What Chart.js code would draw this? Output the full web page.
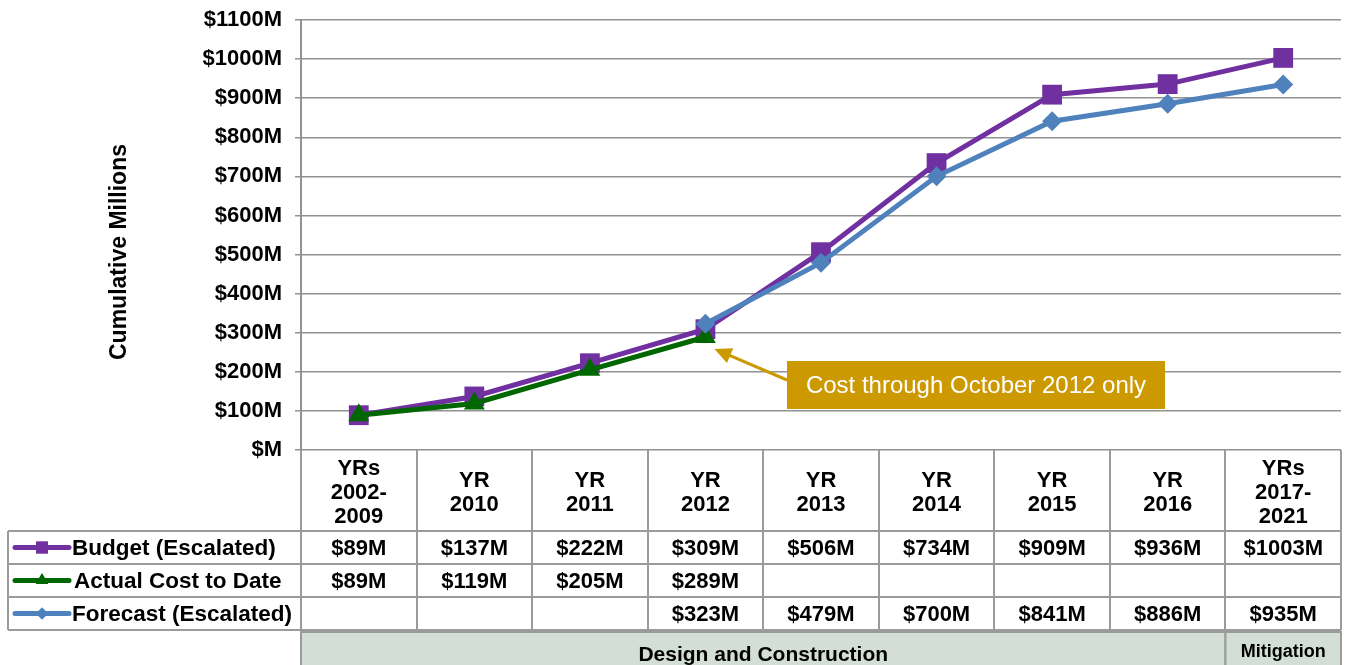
<!DOCTYPE html>
<html>
<head>
<meta charset="utf-8">
<script src="https://cdn.jsdelivr.net/npm/chart.js@4.4.0/dist/chart.umd.min.js"></script>
<style>
  html, body { margin: 0; padding: 0; background: #fff; }
</style>
</head>
<body>
<canvas id="costChart" width="1349" height="665"></canvas>
<script>
// chart data
var years = [['YRs', '2002-', '2009'], ['YR', '2010'], ['YR', '2011'], ['YR', '2012'], ['YR', '2013'],
             ['YR', '2014'], ['YR', '2015'], ['YR', '2016'], ['YRs', '2017-', '2021']];
var budget = [89, 137, 222, 309, 506, 734, 909, 936, 1003];
var actual = [89, 119, 205, 289, null, null, null, null, null];
var forecast = [null, null, null, 323, 479, 700, 841, 886, 935];
var seriesNames = ['Budget (Escalated)', 'Actual Cost to Date', 'Forecast (Escalated)'];
var phases = ['Design and Construction', 'Mitigation'];
var phaseSpans = [8, 1];
var note = 'Cost through October 2012 only';
var noteIndex = 3;

var FONT = '"Liberation Sans", Arial, sans-serif';
var gridColor = '#929292';

function money(v) {
  return '$' + (v === 0 ? '' : v) + 'M';
}

// draws the data table, phase band, axis title and the note box
var tablePlugin = {
  id: 'dataTable',
  afterDraw: function(chart) {
    var ctx = chart.ctx;
    var xs = chart.scales.x, ys = chart.scales.y;
    var area = chart.chartArea;
    var n = years.length;
    var colW = (xs.right - xs.left) / n;
    var headTop = area.bottom, rowTop = 531, rowH = 33;
    var legLeft = 8;
    var sets = chart.data.datasets;
    var rows = [budget, actual, forecast];

    ctx.save();

    // header text
    ctx.fillStyle = '#000';
    ctx.textAlign = 'center';
    ctx.textBaseline = 'middle';
    ctx.font = 'bold 22px ' + FONT;
    years.forEach(function(lines, i) {
      var cx = xs.getPixelForValue(i);
      lines.forEach(function(t, j) {
        ctx.fillText(t, cx, 493 + (j - (lines.length - 1) / 2) * 24);
      });
    });

    // value rows
    rows.forEach(function(vals, r) {
      var cy = rowTop + r * rowH + rowH / 2 + 1;
      vals.forEach(function(v, i) {
        if (v === null) return;
        ctx.fillText(money(v), xs.getPixelForValue(i), cy);
      });
    });

    // legend keys + names
    ctx.textAlign = 'left';
    ctx.font = 'bold 22.5px ' + FONT;
    rows.forEach(function(vals, r) {
      var ds = sets.find(function(d) { return d.label === seriesNames[r]; });
      var cy = rowTop + r * rowH + rowH / 2;
      ctx.strokeStyle = ds.borderColor;
      ctx.lineWidth = 5;
      ctx.lineCap = 'round';
      ctx.beginPath();
      ctx.moveTo(15, cy);
      ctx.lineTo(69, cy);
      ctx.stroke();
      ctx.fillStyle = ds.borderColor;
      Chart.helpers.drawPoint(ctx, { pointStyle: ds.pointStyle, radius: ds.pointRadius * 0.6, borderWidth: 0 }, 42, cy);
      ctx.fill();
      ctx.fillStyle = '#000';
      ctx.fillText(seriesNames[r], r === 1 ? 74 : 72, cy + 1);
    });

    // table grid
    ctx.strokeStyle = '#9b9b9b';
    ctx.lineWidth = 2;
    ctx.lineCap = 'butt';
    ctx.beginPath();
    for (var i = 0; i <= n; i++) {
      var gx = Math.round(xs.left + i * colW);
      ctx.moveTo(gx, headTop);
      ctx.lineTo(gx, rowTop + 3 * rowH);
    }
    for (var r = 0; r <= 3; r++) {
      ctx.moveTo(legLeft, rowTop + r * rowH);
      ctx.lineTo(xs.right, rowTop + r * rowH);
    }
    ctx.moveTo(legLeft, rowTop);
    ctx.lineTo(legLeft, rowTop + 3 * rowH);
    ctx.stroke();

    // phase band
    var bandTop = rowTop + 3 * rowH + 2;
    var start = 0;
    phases.forEach(function(p, k) {
      var x0 = xs.left + start * colW, x1 = xs.left + (start + phaseSpans[k]) * colW;
      ctx.fillStyle = '#d3ded6';
      ctx.fillRect(x0, bandTop, x1 - x0, chart.height - bandTop + 2);
      ctx.strokeRect(x0, bandTop, x1 - x0, chart.height - bandTop + 4);
      ctx.fillStyle = '#000';
      ctx.textAlign = 'center';
      ctx.font = (k === 0 ? 'bold 21px ' : 'bold 18px ') + FONT;
      ctx.fillText(p, (x0 + x1) / 2, bandTop + (k === 0 ? 23 : 20));
      start += phaseSpans[k];
    });

    // y axis title
    ctx.save();
    ctx.translate(120, 252);
    ctx.rotate(-Math.PI / 2);
    ctx.font = 'bold 23px ' + FONT;
    ctx.fillStyle = '#000';
    ctx.textAlign = 'center';
    ctx.fillText('Cumulative Millions', 0, 0);
    ctx.restore();

    // note box with arrow pointing at the last actual value
    var tipX = xs.getPixelForValue(noteIndex) + 9;
    var tipY = ys.getPixelForValue(actual[noteIndex]) + 12;
    var bx = 787, by = 361, bw = 378, bh = 48;
    var sx = bx, sy = by + 19;
    var ang = Math.atan2(tipY - sy, tipX - sx);
    ctx.strokeStyle = '#cc9900';
    ctx.fillStyle = '#cc9900';
    ctx.lineWidth = 3;
    ctx.beginPath();
    ctx.moveTo(sx, sy);
    ctx.lineTo(tipX - Math.cos(ang) * 10, tipY - Math.sin(ang) * 10);
    ctx.stroke();
    ctx.beginPath();
    ctx.moveTo(tipX, tipY);
    ctx.lineTo(tipX - Math.cos(ang) * 17 + Math.sin(ang) * 8, tipY - Math.sin(ang) * 17 - Math.cos(ang) * 8);
    ctx.lineTo(tipX - Math.cos(ang) * 17 - Math.sin(ang) * 8, tipY - Math.sin(ang) * 17 + Math.cos(ang) * 8);
    ctx.closePath();
    ctx.fill();
    ctx.fillRect(bx, by, bw, bh);
    ctx.fillStyle = '#fff';
    ctx.font = '24px ' + FONT;
    ctx.textAlign = 'center';
    ctx.fillText(note, bx + bw / 2, by + bh / 2 + 1);

    ctx.restore();
  }
};

var ctx = document.getElementById('costChart').getContext('2d');
var costChart = new Chart(ctx, {
  type: 'line',
  data: {
    labels: years,
    datasets: [{
      label: seriesNames[0],
      data: budget,
      borderColor: '#7030a0',
      backgroundColor: '#7030a0',
      borderWidth: 5,
      pointStyle: 'rect',
      pointRadius: 14,
      pointBorderWidth: 0,
      order: 3
    }, {
      label: seriesNames[1],
      data: actual,
      borderColor: '#006600',
      backgroundColor: '#006600',
      borderWidth: 5,
      pointStyle: 'triangle',
      pointRadius: 12,
      pointBorderWidth: 0,
      order: 2
    }, {
      label: seriesNames[2],
      data: forecast,
      borderColor: '#4f81bd',
      backgroundColor: '#4f81bd',
      borderWidth: 5,
      pointStyle: 'rectRot',
      pointRadius: 10,
      pointBorderWidth: 0,
      order: 1
    }]
  },
  options: {
    responsive: false,
    animation: false,
    layout: { autoPadding: false, padding: { top: 20, right: 8, left: 0, bottom: 0 } },
    plugins: {
      legend: { display: false },
      tooltip: { enabled: false }
    },
    scales: {
      x: {
        offset: true,
        grid: { display: false },
        border: { display: false },
        ticks: { display: false },
        afterFit: function(scale) {
          scale.height = 215;
          scale.paddingLeft = 0;
          scale.paddingRight = 0;
        }
      },
      y: {
        min: 0,
        max: 1100,
        ticks: {
          stepSize: 100,
          padding: 13,
          color: '#000',
          font: { family: FONT, size: 22, weight: 'bold' },
          callback: function(v) { return money(v); }
        },
        grid: { color: gridColor, lineWidth: 1.5, tickLength: 6 },
        border: { color: gridColor, width: 2 },
        afterFit: function(scale) {
          scale.width = 301;
          scale.paddingTop = 0;
          scale.paddingBottom = 0;
        }
      }
    }
  },
  plugins: [tablePlugin]
});
</script>
</body>
</html>
